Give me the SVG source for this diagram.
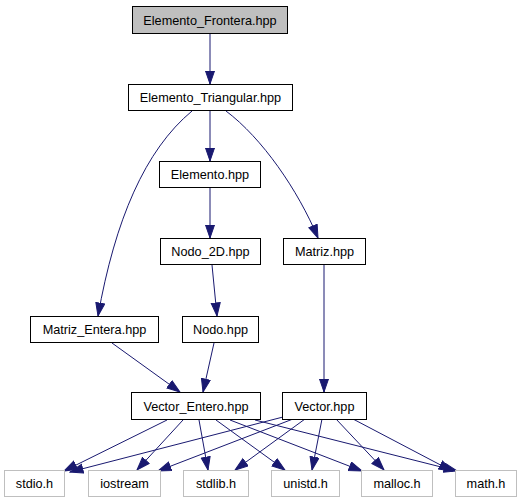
<svg xmlns="http://www.w3.org/2000/svg" width="523" height="504" viewBox="0 0 523 504">
<style>
.n rect{fill:#fff;stroke:#000;stroke-width:1}
.n.root rect{fill:#bfbfbf}
.n.ext rect{stroke:#bfbfbf}
.n text{font-family:"Liberation Sans",Arial,sans-serif;font-size:12.7px;fill:#000;text-anchor:middle}
.e path{fill:none;stroke:#191970;stroke-width:1;marker-end:url(#ah)}
</style>
<defs>
<marker id="ah" markerUnits="userSpaceOnUse" markerWidth="15" markerHeight="11" refX="13.5" refY="5" orient="auto">
<path d="M0.5,0.5 L13.5,5 L0.5,9.5 z" fill="#191970" stroke="#191970" stroke-width="1"/>
</marker>
</defs>
<rect width="523" height="504" fill="#fff"/>
<g id="edges" class="e">
<path d="M210,33 L210,84"/>
<path d="M210,111 L210,161"/>
<path d="M192,111 C145,150 115,220 98,316"/>
<path d="M226,111 C262,138 298,190 318,238"/>
<path d="M210,188 L210,238"/>
<path d="M212,265 L217,316"/>
<path d="M112,343 L180,392"/>
<path d="M214,343 L203,392"/>
<path d="M324,265 L324,392"/>
<path d="M167,420 L64,471"/>
<path d="M183,420 L137,470"/>
<path d="M199,420 L208,470"/>
<path d="M216,420 L285,470"/>
<path d="M230,420 L362,471"/>
<path d="M255,420 L457,471"/>
<path d="M283,417 L70,472"/>
<path d="M293,419 L158,471"/>
<path d="M305,419 L235,470"/>
<path d="M322,419 L312,470"/>
<path d="M336,419 L384,470"/>
<path d="M353,419 L452,471"/>
</g>
<g id="Elemento_Frontera" class="n root"><rect x="132.5" y="6.5" width="155" height="27"/><text x="210" y="24.5">Elemento_Frontera.hpp</text></g>
<g id="Elemento_Triangular" class="n"><rect x="128.5" y="84.5" width="164" height="26"/><text x="210.5" y="102">Elemento_Triangular.hpp</text></g>
<g id="Elemento" class="n"><rect x="159.5" y="161.5" width="101" height="26"/><text x="210" y="179">Elemento.hpp</text></g>
<g id="Nodo_2D" class="n"><rect x="160.5" y="238.5" width="100" height="26"/><text x="210.5" y="256">Nodo_2D.hpp</text></g>
<g id="Matriz" class="n"><rect x="283.5" y="238.5" width="82" height="26"/><text x="324.5" y="256">Matriz.hpp</text></g>
<g id="Matriz_Entera" class="n"><rect x="30.5" y="316.5" width="128" height="26"/><text x="94.5" y="334">Matriz_Entera.hpp</text></g>
<g id="Nodo" class="n"><rect x="182.5" y="316.5" width="76" height="26"/><text x="220.5" y="334">Nodo.hpp</text></g>
<g id="Vector_Entero" class="n"><rect x="131.5" y="392.5" width="129" height="27"/><text x="196" y="410.5">Vector_Entero.hpp</text></g>
<g id="Vector" class="n"><rect x="282.5" y="392.5" width="84" height="27"/><text x="324.5" y="410.5">Vector.hpp</text></g>
<g id="stdio" class="n ext"><rect x="4.5" y="470.5" width="60" height="26"/><text x="34.5" y="488">stdio.h</text></g>
<g id="iostream" class="n ext"><rect x="88.5" y="470.5" width="72" height="26"/><text x="124.5" y="488">iostream</text></g>
<g id="stdlib" class="n ext"><rect x="183.5" y="470.5" width="65" height="26"/><text x="216" y="488">stdlib.h</text></g>
<g id="unistd" class="n ext"><rect x="271.5" y="470.5" width="68" height="26"/><text x="305.5" y="488">unistd.h</text></g>
<g id="malloc" class="n ext"><rect x="361.5" y="470.5" width="71" height="26"/><text x="397" y="488">malloc.h</text></g>
<g id="math" class="n ext"><rect x="455.5" y="470.5" width="61" height="26"/><text x="486" y="488">math.h</text></g>
</svg>
